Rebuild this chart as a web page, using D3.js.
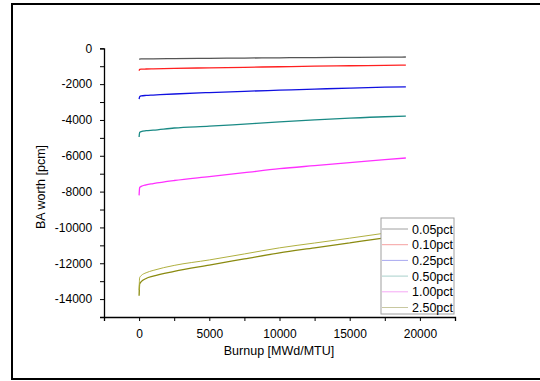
<!DOCTYPE html>
<html>
<head>
<meta charset="utf-8">
<script src="https://cdn.jsdelivr.net/npm/d3@7"></script>
<style>
  body { margin: 0; background: #fff; }
  svg text { font-family: Arial, "Liberation Sans", sans-serif; }
</style>
</head>
<body>
<div id="chart"></div>
<script>
// burnup points [MWd/MTU]
var burnup = [0, 40, 150, 500, 1000, 2500, 5000, 7500, 10000, 12500, 15000, 17500, 19000];

// BA worth [pcm] per loading
var ba005 = [-610, -600, -595, -590, -585, -575, -560, -545, -530, -515, -505, -495, -487];
var ba010 = [-1250, -1180, -1165, -1155, -1145, -1120, -1090, -1060, -1030, -1000, -975, -950, -935];
var ba025 = [-2840, -2700, -2660, -2630, -2610, -2550, -2470, -2400, -2340, -2280, -2220, -2170, -2150];
var ba050 = [-4950, -4700, -4650, -4600, -4570, -4450, -4350, -4230, -4110, -4000, -3900, -3820, -3790];
var ba100 = [-8210, -7780, -7710, -7620, -7550, -7380, -7160, -6940, -6720, -6550, -6385, -6220, -6125];
var ba250 = [-13810, -13150, -13030, -12850, -12720, -12450, -12100, -11760, -11420, -11140, -10860, -10580, -10420];
var ba250b = [-13500, -12800, -12690, -12530, -12400, -12120, -11815, -11480, -11140, -10870, -10600, -10320, -10160];

var labels = ["0.05pct", "0.10pct", "0.25pct", "0.50pct", "1.00pct", "2.50pct"];
var colors = ["#555555", "#ff2020", "#1010e0", "#1a8a85", "#ff30ff", "#8a8a10"];
var legendColors = ["#a0a0a0", "#f5a0a0", "#a8a8f0", "#a8d0cc", "#f5a8f5", "#c8c8a0"];

var xTicks = [0, 5000, 10000, 15000, 20000];
var yTicks = [0, -2000, -4000, -6000, -8000, -10000, -12000, -14000];

var width = 540, height = 381;

var svg = d3.select("#chart")
    .append("svg")
    .attr("width", width)
    .attr("height", height);

// outer frame (runs off the right/bottom like the original page grab)
svg.append("rect")
    .attr("x", 12).attr("y", 4)
    .attr("width", 600).attr("height", 375)
    .attr("fill", "none")
    .attr("stroke", "black")
    .attr("stroke-width", 2);

var x = d3.scaleLinear().domain([-2500, 22500]).range([104, 455]);
var y = d3.scaleLinear().domain([-15000, 0]).range([317, 48.3]);

var line = d3.line()
    .x(function(d, i) { return x(burnup[i]); })
    .y(function(d) { return y(d); })
    .curve(d3.curveMonotoneX);

var series = [ba005, ba010, ba025, ba050, ba100, ba250];
series.forEach(function(s, i) {
    svg.append("path")
        .attr("d", line(s))
        .attr("fill", "none")
        .attr("stroke", colors[i])
        .attr("stroke-width", 1.3);
});
// second 2.50pct case, slightly above
svg.append("path")
    .attr("d", line(ba250b))
    .attr("fill", "none")
    .attr("stroke", "#b0b040")
    .attr("stroke-width", 1);

// axes
var xAxis = svg.append("g")
    .attr("transform", "translate(0,317)")
    .call(d3.axisBottom(x).tickValues(d3.range(-2500, 22501, 2500))
        .tickSize(4).tickFormat(function(d) { return xTicks.indexOf(d) >= 0 ? d : ""; }));
var yAxis = svg.append("g")
    .attr("transform", "translate(104,0)")
    .call(d3.axisLeft(y).tickValues(d3.range(-15000, 1, 1000))
        .tickSize(4).tickFormat(function(d) { return yTicks.indexOf(d) >= 0 ? d : ""; }));

[xAxis, yAxis].forEach(function(g) {
    g.select(".domain").attr("stroke", "black").attr("stroke-width", 1.3);
    g.selectAll(".tick line").attr("stroke", "black");
    g.selectAll("text").attr("fill", "black").style("font-size", "12px");
});
xAxis.selectAll("text").attr("dy", "1.15em");
yAxis.selectAll("text").attr("dx", "-0.4em");

svg.append("text")
    .attr("x", 279).attr("y", 355)
    .attr("text-anchor", "middle")
    .style("font-size", "12.5px")
    .text("Burnup [MWd/MTU]");

svg.append("text")
    .attr("transform", "translate(45,187) rotate(-90)")
    .attr("text-anchor", "middle")
    .style("font-size", "12.5px")
    .text("BA worth [pcm]");

// legend
var legend = svg.append("g");
legend.append("rect")
    .attr("x", 381).attr("y", 218)
    .attr("width", 73).attr("height", 96)
    .attr("fill", "white")
    .attr("stroke", "#a0a0a0");

labels.forEach(function(lab, i) {
    var ly = 229 + i * 15.7;
    legend.append("line")
        .attr("x1", 382).attr("x2", 408)
        .attr("y1", ly).attr("y2", ly)
        .attr("stroke", legendColors[i])
        .attr("stroke-width", 1);
    legend.append("text")
        .attr("x", 412).attr("y", ly + 4.5)
        .style("font-size", "12.5px")
        .text(lab);
});
</script>
</body>
</html>
